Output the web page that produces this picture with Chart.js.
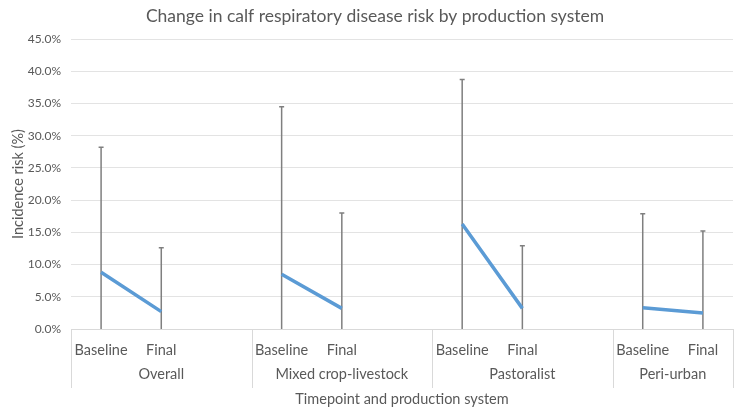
<!DOCTYPE html>
<html lang="en">
<head>
    <meta charset="UTF-8" />
    <title>Calf respiratory disease risk</title>
    <script src="https://cdn.jsdelivr.net/npm/chart.js"></script>
    <style>
        html, body { margin: 0; padding: 0; background: #fff; }
        #wrap { width: 750px; height: 414px; }
    </style>
</head>
<body>
    <div id="wrap"><canvas id="riskChart"></canvas></div>

    <script>
        // timepoints, with a blank slot between production systems
        const timepoints = ['Baseline', 'Final', '', 'Baseline', 'Final', '', 'Baseline', 'Final', '', 'Baseline', 'Final'];
        const systems = ['Overall', 'Mixed crop-livestock', 'Pastoralist', 'Peri-urban'];
        const riskPct = [8.8, 2.7, null, 8.5, 3.2, null, 16.3, 3.2, null, 3.3, 2.5];
        const upperPct = [28.2, 12.6, null, 34.5, 18.0, null, 38.7, 12.9, null, 17.9, 15.2];
        const lowerPct = [0, 0, null, 0, 0, null, 0, 0, null, 0, 0];

        const FONT = 'Lato, "Open Sans", sans-serif';
        const TXT = '#595959';

        // vertical error bars, drawn under the line
        const errorBars = {
            id: 'errorBars',
            beforeDatasetsDraw(chart) {
                const ctx = chart.ctx;
                const x = chart.scales.x, y = chart.scales.y;
                ctx.save();
                ctx.strokeStyle = '#7f7f7f';
                ctx.lineWidth = 1.5;
                upperPct.forEach((hi, i) => {
                    if (hi == null) return;
                    const px = x.getPixelForValue(i);
                    const top = y.getPixelForValue(hi);
                    const bot = y.getPixelForValue(lowerPct[i]);
                    ctx.beginPath();
                    ctx.moveTo(px, bot);
                    ctx.lineTo(px, top);
                    ctx.moveTo(px - 2.5, top);
                    ctx.lineTo(px + 2.5, top);
                    ctx.stroke();
                });
                ctx.restore();
            }
        };

        // two-level category axis + axis titles
        const groupAxis = {
            id: 'groupAxis',
            afterDraw(chart) {
                const ctx = chart.ctx;
                const x = chart.scales.x;
                const area = chart.chartArea;
                const step = x.getPixelForValue(1) - x.getPixelForValue(0);
                ctx.save();
                ctx.fillStyle = TXT;
                ctx.font = '14.5px ' + FONT;
                ctx.textAlign = 'center';
                ctx.textBaseline = 'middle';
                timepoints.forEach((t, i) => {
                    if (t) ctx.fillText(t, x.getPixelForValue(i), area.bottom + 21);
                });

                const edges = [area.left];
                for (let i = 2; i < timepoints.length; i += 3) edges.push(x.getPixelForValue(i) + step / 2);
                edges.push(area.right);

                ctx.strokeStyle = '#d9d9d9';
                ctx.lineWidth = 1;
                edges.forEach(e => {
                    ctx.beginPath();
                    ctx.moveTo(Math.round(e) + 0.5, area.bottom);
                    ctx.lineTo(Math.round(e) + 0.5, area.bottom + 59);
                    ctx.stroke();
                });
                systems.forEach((g, i) => {
                    ctx.fillText(g, (edges[i] + edges[i + 1]) / 2, area.bottom + 45);
                });

                ctx.fillText('Timepoint and production system', (area.left + area.right) / 2, area.bottom + 70);

                ctx.translate(18, (area.top + area.bottom) / 2);
                ctx.rotate(-Math.PI / 2);
                ctx.fillText('Incidence risk (%)', 0, 0);
                ctx.restore();
            }
        };

        new Chart(document.getElementById('riskChart'), {
            type: 'line',
            data: {
                labels: timepoints,
                datasets: [{
                    label: 'Incidence risk',
                    data: riskPct,
                    borderColor: '#5b9bd5',
                    borderWidth: 3.5,
                    pointRadius: 0,
                    tension: 0,
                    spanGaps: false
                }]
            },
            options: {
                responsive: true,
                maintainAspectRatio: false,
                animation: false,
                layout: { padding: { left: 17, right: 17, top: 0, bottom: 0 } },
                plugins: {
                    legend: { display: false },
                    tooltip: { enabled: false },
                    title: {
                        display: true,
                        text: 'Change in calf respiratory disease risk by production system',
                        color: TXT,
                        font: { family: FONT, size: 17.5, weight: 'normal' },
                        padding: { top: 6, bottom: 12 }
                    }
                },
                scales: {
                    x: {
                        offset: true,
                        grid: { display: false },
                        border: { display: true, color: '#d9d9d9' },
                        ticks: { display: false },
                        afterFit: s => { s.height = 85; }
                    },
                    y: {
                        min: 0,
                        max: 45,
                        grid: { color: '#e3e3e3', drawTicks: false },
                        border: { display: false },
                        ticks: {
                            stepSize: 5,
                            padding: 10,
                            color: TXT,
                            font: { family: FONT, size: 12 },
                            callback: v => v.toFixed(1) + '%'
                        },
                        afterFit: s => { s.width = 54; }
                    }
                }
            },
            plugins: [errorBars, groupAxis]
        });
    </script>
</body>
</html>
